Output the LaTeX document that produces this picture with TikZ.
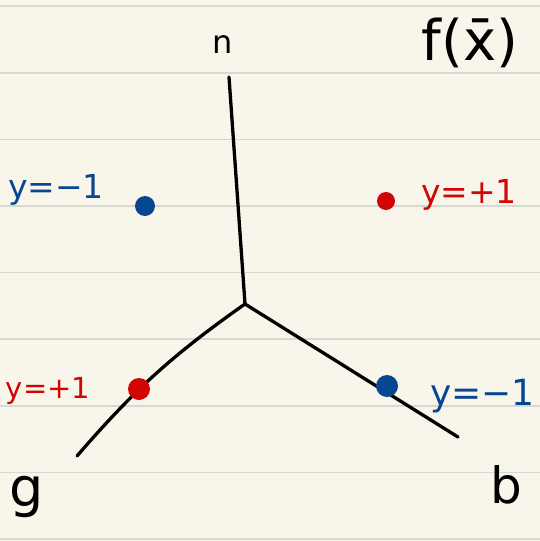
\documentclass[tikz,border=0pt]{standalone}
\usepackage{fontspec}
\setmainfont{DejaVu Sans}
\usepackage{xcolor}
\usepackage{tikz}
\usetikzlibrary{positioning,calc}

\definecolor{paper}{RGB}{248,246,234}
\definecolor{ruleline}{RGB}{216,216,211}
\definecolor{penred}{RGB}{210,4,4}
\definecolor{penblue}{RGB}{8,70,146}

\begin{document}
\begin{tikzpicture}[
  x=1pt, y=-1pt,
  rule/.style={draw=ruleline, line width=1.6pt},
  branch/.style={draw=black, line width=3.3pt, line cap=round, line join=round},
  dot/.style={circle, inner sep=0pt, minimum size=#1},
  lbl/.style={anchor=base, inner sep=0pt, font=\fontsize{33}{36}\selectfont},
  big/.style={anchor=base, inner sep=0pt, font=\fontsize{#1}{#1}\selectfont}
]

\fill[paper] (0,0) rectangle (540,541);
\useasboundingbox (0,0) rectangle (540,541);
\foreach \k in {0,...,8}
  \draw[rule] (0,6.2+66.6*\k) -- (540,6.2+66.6*\k);

\coordinate (j) at (245,304);
\coordinate (nt) at (229,77);
\coordinate (gt) at (77,456);
\coordinate (bt) at (458,437);

\draw[branch] (j) -- (nt);
\draw[branch] (j) to[bend right=7] (gt);
\draw[branch] (j) -- (bt);

\node[dot=22pt, fill=penred] (gdot) at (139,389) {};
\node[dot=22pt, fill=penblue] (bdot) at (387,386) {};
\node[dot=20pt, fill=penblue] (negdot) at (145,206) {};
\node[dot=18pt, fill=penred] (posdot) at (386,201) {};

\node[big=32] (nlab) at (223,53) {n};
\node[big=54] (glab) at (27,506) {g};
\node[big=50] (blab) at (506,503) {b};
\node[big=56] (flab) at (470,60) {f(\=x)};

\node[lbl, text=penblue] (neglab) at (56,198) {y=−1};
\node[lbl, text=penred] (poslab) at (469,203) {y=+1};
\node[lbl, text=penred, font=\fontsize{29}{34}\selectfont] (glab2) at (48,398) {y=+1};
\node[lbl, text=penblue, anchor=base west, font=\fontsize{36}{40}\selectfont] (blab2) at (430,405) {y=−1};

\end{tikzpicture}
\end{document}
